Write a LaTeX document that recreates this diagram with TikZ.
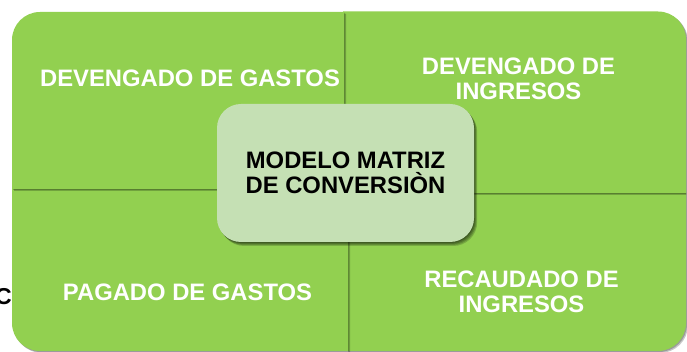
\documentclass[tikz,border=0pt]{standalone}
\usepackage{fontspec}
\setmainfont{Liberation Sans}
\definecolor{outergreen}{HTML}{92D050}
\definecolor{innergreen}{HTML}{C5E0B4}
\newcommand\tlpath{(12,163) -- (12,312) arc[start angle=180,end angle=90,radius=28] -- (344,340) -- (344,163) -- cycle}
\newcommand\trpath{(343,159) -- (343,340.5) -- (658,340.5) arc[start angle=90,end angle=0,radius=28] -- (686,159) -- cycle}
\newcommand\blpath{(12,163) -- (348,163) -- (348,1) -- (40,1) arc[start angle=270,end angle=180,radius=28] -- cycle}
\newcommand\brpath{(347,159) -- (686,159) -- (686,29) arc[start angle=0,end angle=-90,radius=28] -- (347,1) -- cycle}
\tikzset{
  quad/.style={fill=outergreen},
  shad/.style={fill=black,opacity=0.22},
  lbl/.style={text=white,font=\bfseries\fontsize{23.8}{25}\selectfont,align=center,inner sep=0pt},
  clbl/.style={text=black,font=\bfseries\fontsize{23.8}{25}\selectfont,align=center,inner sep=0pt},
}
\begin{document}
\begin{tikzpicture}[x=1pt,y=1pt]
\useasboundingbox (0,0) rectangle (687,352);
\clip (0,0) rectangle (687,352);
\fill[white] (0,0) rectangle (687,352);
% stray text partly hidden behind the lower left box
\node[anchor=base west,inner sep=0pt,text=black,font=\bfseries\fontsize{23}{25}\selectfont] (co) at (-5,47) {Co};
% bottom-right
\path[shad,shift={(2,-2)}] \brpath;
\path[shad,shift={(1,-1)}] \brpath;
\path[quad] \brpath;
% top-right
\path[shad,shift={(2,-2)}] \trpath;
\path[shad,shift={(1,-1)}] \trpath;
\path[quad] \trpath;
% bottom-left
\path[shad,shift={(2,-2)}] \blpath;
\path[shad,shift={(1,-1)}] \blpath;
\path[quad] \blpath;
% top-left
\path[shad,shift={(2,-2)}] \tlpath;
\path[shad,shift={(1,-1)}] \tlpath;
\path[quad] \tlpath;
% centre box
\foreach \d in {4,3,2,1}{
  \fill[black,opacity=0.18,rounded corners=24pt,shift={(\d*0.8,-\d)}] (217,110) rectangle (474,248);
}
\fill[innergreen,rounded corners=24pt] (217,110) rectangle (474,248);
% labels
\node[lbl] (tl) at (190,273.5) {DEVENGADO DE GASTOS};
\node[lbl] (tr) at (518.5,273.5) {DEVENGADO DE\\INGRESOS};
\node[lbl] (bl) at (187.5,60) {PAGADO DE GASTOS};
\node[lbl] (br) at (521.5,60) {RECAUDADO DE\\INGRESOS};
\node[clbl] (c) at (345.5,179.5) {MODELO MATRIZ\\DE CONVERSIÒN};
\end{tikzpicture}
\end{document}
